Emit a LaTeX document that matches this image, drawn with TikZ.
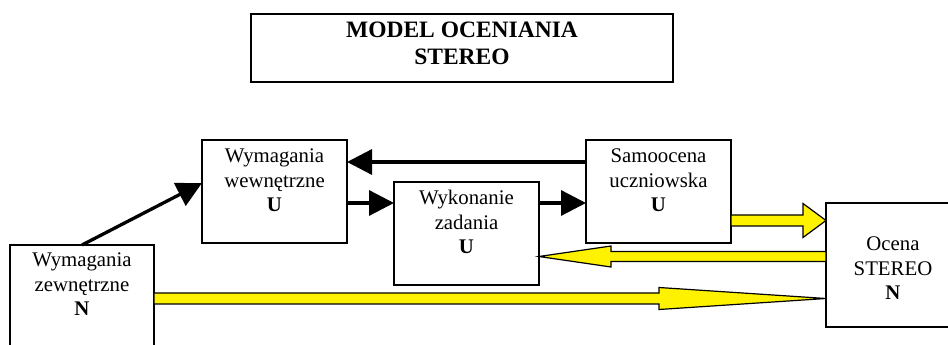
\documentclass[tikz,border=0pt]{standalone}
\usepackage{fontspec}
\setmainfont{Liberation Serif}
\usetikzlibrary{arrows.meta,calc}
\tikzset{
  boxnode/.style={draw, line width=1.5pt, inner sep=0pt, outer sep=0pt, anchor=north west},
  blackarrow/.style={line width=3.3pt, -{Triangle[length=25pt,width=25pt]}},
  fatarrow/.style={draw=black, fill=yellow, line width=1.2pt, line join=miter},
}
\newcommand\boxtext[4]{\parbox[c][#2pt][t]{#1pt}{\centering\fontsize{20.8}{24.5}\selectfont\vspace*{#3pt}\strut #4}}
% yellow block arrow pointing right: from #1.east to #2.west
\newcommand\fatR[6]{\draw[fatarrow] let \p1=(#1.east), \p2=(#2.west) in
  (\x1,{#3+#4}) -- ({\x2-#6pt},{#3+#4}) -- ({\x2-#6pt},{#3+#5}) -- (\x2,#3)
  -- ({\x2-#6pt},{#3-#5}) -- ({\x2-#6pt},{#3-#4}) -- (\x1,{#3-#4}) -- cycle;}
% yellow block arrow pointing left: from #1.west to #2.east
\newcommand\fatL[6]{\draw[fatarrow] let \p1=(#1.west), \p2=(#2.east) in
  (\x1,{#3+#4}) -- ({\x2+#6pt},{#3+#4}) -- ({\x2+#6pt},{#3+#5}) -- (\x2,#3)
  -- ({\x2+#6pt},{#3-#5}) -- ({\x2+#6pt},{#3-#4}) -- (\x1,{#3-#4}) -- cycle;}
\begin{document}
\begin{tikzpicture}[x=1pt,y=1pt]
\useasboundingbox (0,0) rectangle (948,345);
\clip (0,0) rectangle (948,345);
\fill[white] (0,0) rectangle (948,345);

\node[boxnode] (title) at (251,331) {\parbox[c][68pt][t]{422pt}{\centering\fontsize{23.5}{27}\selectfont\bfseries\vspace*{5.1pt}\strut MODEL OCENIANIA\\STEREO}};

\node[boxnode] (wwew) at (202,205) {\boxtext{145}{103}{5.85}{Wymagania\\wewnętrzne\\\textbf{U}}};
\node[boxnode] (wzew) at (10,100) {\boxtext{144}{115}{4.85}{Wymagania\\zewnętrzne\\\textbf{N}}};
\node[boxnode] (wyk) at (394,163) {\boxtext{145}{103}{5.85}{Wykonanie\\zadania\\\textbf{U}}};
\node[boxnode] (samo) at (586,205) {\boxtext{145}{103}{5.85}{Samoocena\\uczniowska\\\textbf{U}}};
\node[boxnode] (ocena) at (826,142) {\boxtext{134}{124}{30.85}{Ocena\\STEREO\\\textbf{N}}};

\draw[blackarrow] ([yshift=29.5pt]samo.west) -- ([yshift=29.5pt]wwew.east);
\draw[blackarrow] ([yshift=-11.5pt]wwew.east) -- ([yshift=30.5pt]wyk.west);
\draw[blackarrow] ([yshift=30.5pt]wyk.east) -- ([yshift=-11.5pt]samo.west);
\draw[blackarrow] (wzew.north) -- ([yshift=8.5pt]wwew.west);

\fatR{samo}{ocena}{124.5}{5.5}{17}{23}
\fatL{ocena}{wyk}{88.5}{5}{10.5}{72}
\fatR{wzew}{ocena}{46.5}{5.5}{11}{167}
\end{tikzpicture}
\end{document}
